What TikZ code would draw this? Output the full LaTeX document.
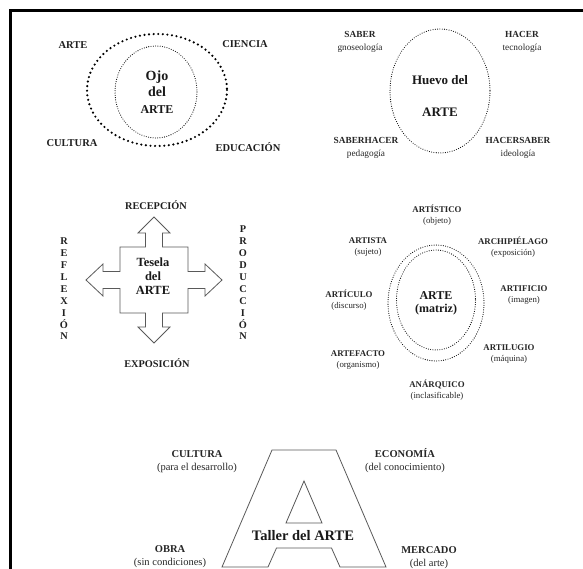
\documentclass[tikz,border=0pt]{standalone}
\usepackage{fontspec}
\setmainfont{Liberation Serif}
\begin{document}
\begin{tikzpicture}[x=1pt,y=-1pt,
  lab/.style={font=\bfseries\fontsize{10.5}{12}\selectfont, inner sep=0pt, text=black!88},
  pair/.style={align=center, inner sep=0pt, text=black!85, font=\fontsize{9.3}{13}\selectfont},
  mlab/.style={align=center, inner sep=0pt, text=black!85, font=\fontsize{8.8}{11.5}\selectfont},
  blab/.style={align=center, inner sep=0pt, text=black!85, font=\fontsize{10.5}{13}\selectfont},
  vlab/.style={align=center, inner sep=0pt, text=black!88, font=\bfseries\fontsize{10.3}{11.9}\selectfont},
  title/.style={align=center, inner sep=0pt, text=black!90},
  bigdots/.style={line width=2.4pt, line cap=round, dash pattern=on 0pt off 4.6pt},
  finedots/.style={line width=1.1pt, line cap=round, dash pattern=on 0pt off 2.3pt},
  outline/.style={draw=black!65, line width=0.8pt, line join=miter}]
\useasboundingbox (0,0) rectangle (583,569);
% frame
\draw[line width=3pt] (10,569) -- (10,11) -- (583,11);

% ---- Ojo del ARTE ----
\draw[bigdots] (157,90) ellipse [x radius=70, y radius=56];
\draw[finedots] (156,92) ellipse [x radius=41, y radius=46];
\node[title, font=\bfseries\fontsize{14}{16.5}\selectfont] (ojo) at (157,92) {Ojo\\del\\{\fontsize{12}{16.5}\selectfont ARTE}};
\node[lab] (arte1) at (73,45) {ARTE};
\node[lab] (ciencia) at (245,44) {CIENCIA};
\node[lab] (cultura1) at (72,143) {CULTURA};
\node[lab] (educ) at (248,147) {EDUCACIÓN};

% ---- Huevo del ARTE ----
\draw[finedots] (440,91) ellipse [x radius=50, y radius=62];
\node[title, font=\bfseries\fontsize{13}{32}\selectfont] (huevo) at (440,96) {Huevo del\\ARTE};
\node[pair] (saber) at (360,42) {\textbf{SABER}\\gnoseología};
\node[pair] (hacer) at (522,42) {\textbf{HACER}\\tecnología};
\node[pair] (saberhacer) at (366,148) {\textbf{SABERHACER}\\pedagogía};
\node[pair] (hacersaber) at (518,148) {\textbf{HACERSABER}\\ideología};

% ---- Tesela del ARTE ----
\draw[outline] (145.5,247) -- (145.5,233) -- (138,233) -- (154,217) -- (170,233) -- (162.5,233) -- (162.5,247)
  -- (188,247) -- (188,271.5) -- (205,271.5) -- (205,264) -- (222,280) -- (205,296) -- (205,288.5) -- (188,288.5)
  -- (188,313) -- (162.5,313) -- (162.5,327) -- (170,327) -- (154,343) -- (138,327) -- (145.5,327) -- (145.5,313)
  -- (120,313) -- (120,288.5) -- (103,288.5) -- (103,296) -- (86,280) -- (103,264) -- (103,271.5) -- (120,271.5)
  -- (120,247) -- cycle;
\node[title, font=\bfseries\fontsize{12.5}{14}\selectfont] (tesela) at (153,276) {Tesela\\del\\ARTE};
\node[lab, font=\bfseries\fontsize{10.3}{12}\selectfont] (recep) at (156,205) {RECEPCIÓN};
\node[lab, font=\bfseries\fontsize{10.3}{12}\selectfont] (expo) at (157,363) {EXPOSICIÓN};
\node[vlab] (refl) at (64,289) {R\\E\\F\\L\\E\\X\\I\\Ó\\N};
\node[vlab] (prod) at (243,283) {P\\R\\O\\D\\U\\C\\C\\I\\Ó\\N};

% ---- ARTE (matriz) ----
\draw[finedots] (436,303) ellipse [x radius=48, y radius=58];
\draw[finedots] (436,300) ellipse [x radius=39.5, y radius=50];
\node[title, font=\bfseries\fontsize{12}{13}\selectfont] (matriz) at (436,303) {ARTE\\(matriz)};
\node[mlab] (artistico) at (437,215) {\textbf{ARTÍSTICO}\\(objeto)};
\node[mlab] (artista) at (368,247) {\textbf{ARTISTA}\\(sujeto)};
\node[mlab] (archi) at (513,247) {\textbf{ARCHIPIÉLAGO}\\(exposición)};
\node[mlab] (articulo) at (349,300) {\textbf{ARTÍCULO}\\(discurso)};
\node[mlab] (artificio) at (524,295) {\textbf{ARTIFICIO}\\(imagen)};
\node[mlab] (artefacto) at (358,360) {\textbf{ARTEFACTO}\\(organismo)};
\node[mlab] (artilugio) at (509,354) {\textbf{ARTILUGIO}\\(máquina)};
\node[mlab] (anarquico) at (437,390) {\textbf{ANÁRQUICO}\\(inclasificable)};

% ---- Taller del ARTE ----
\draw[outline] (222,567) -- (272,450) -- (336,450) -- (386,567) -- (340,567) -- (331.5,548) -- (276.5,548) -- (268,567) -- cycle;
\draw[outline] (304,481) -- (322,523) -- (286,523) -- cycle;
\node[title, font=\bfseries\fontsize{14.5}{16}\selectfont] (taller) at (303,536) {Taller del ARTE};
\node[blab] (cultura2) at (197,462) {\textbf{CULTURA}\\(para el desarrollo)};
\node[blab] (economia) at (405,461) {\textbf{ECONOMÍA}\\(del conocimiento)};
\node[blab] (obra) at (170,557) {\textbf{OBRA}\\(sin condiciones)};
\node[blab] (mercado) at (429,558) {\textbf{MERCADO}\\(del arte)};
\end{tikzpicture}
\end{document}
